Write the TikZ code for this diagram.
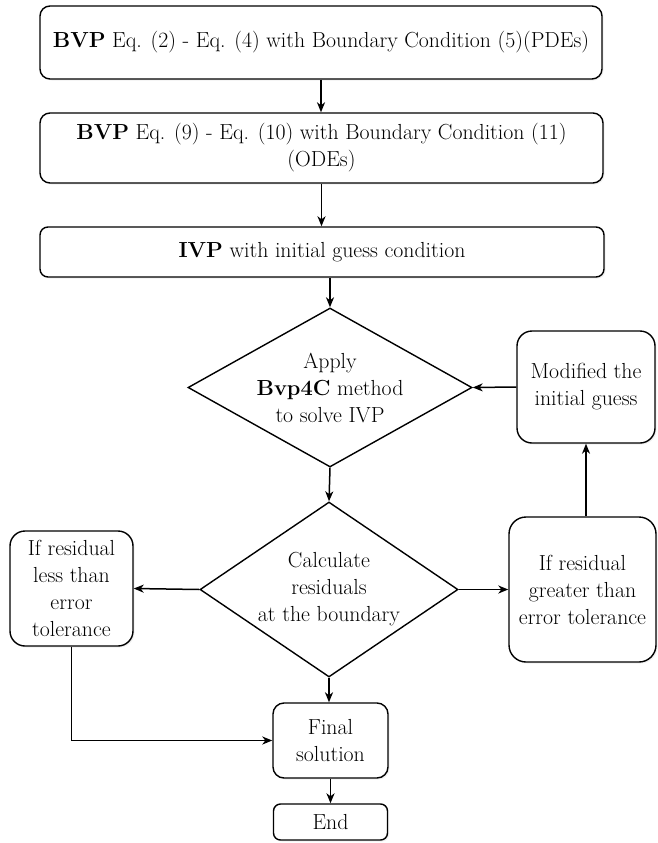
\documentclass[tikz,border=0pt]{standalone}
\usepackage{fontspec}
\usetikzlibrary{shapes.geometric,arrows.meta,shadows}
\begin{document}
\begin{tikzpicture}[x=1pt,y=-1pt,
  every node/.style={font=\rmfamily\fontsize{21.8}{27}\selectfont, align=center, inner sep=0pt},
  boxnode/.style={draw, line width=1.4pt, fill=white, rectangle, rounded corners=#1,
    drop shadow={opacity=0.12, shadow xshift=1.5pt, shadow yshift=-1.5pt}},
  boxnode/.default=10pt,
  dianode/.style={draw, line width=1.4pt, shape=diamond, inner sep=0pt},
  conn/.style={line width=1.5pt, -{Stealth[length=10pt,width=8pt,inset=3pt]}}
]
\useasboundingbox (0,0) rectangle (657,843);

\node[boxnode, minimum width=562pt, minimum height=73pt] (b1) at (321,42.5)
  {\textbf{BVP} Eq. (2) - Eq. (4) with Boundary Condition (5)(PDEs)};
\node[boxnode, minimum width=563pt, minimum height=70pt] (b2) at (321.5,148)
  {\textbf{BVP} Eq. (9) - Eq. (10) with Boundary Condition (11)\\(ODEs)};
\node[boxnode=8pt, minimum width=564pt, minimum height=50pt] (b3) at (322,252)
  {\textbf{IVP} with initial guess condition};

\node[dianode, minimum width=284pt, minimum height=159pt] (d1) at (330,387.5) {};
\node (t1) at (d1.center) {Apply\\\textbf{Bvp4C} method\\to solve IVP};

\node[boxnode=15pt, minimum width=138pt, minimum height=112pt] (mod) at (586,387)
  {Modified the\\initial guess};

\node[dianode, minimum width=258pt, minimum height=175pt] (d2) at (329,589.5) {};
\node (t2) at (d2.center) {Calculate\\residuals\\at the boundary};

\node[boxnode=15pt, minimum width=123pt, minimum height=115pt] (less) at (71.5,588.5)
  {If residual\\less than\\error\\tolerance};
\node[boxnode=17pt, minimum width=147pt, minimum height=145pt] (great) at (582.5,589.5)
  {If residual\\greater than\\error tolerance};

\node[boxnode=11pt, minimum width=115pt, minimum height=75pt] (final) at (330.5,740.5)
  {Final\\solution};
\node[boxnode=7pt, minimum width=114pt, minimum height=36pt] (end) at (330.5,822)
  {End};

\draw[conn] (b1.south) -- (b1.south |- b2.north);
\draw[conn] (b2.south) -- (b2.south |- b3.north);
\draw[conn] (d1.north |- b3.south) -- (d1.north);
\draw[conn] (d1.south) -- (d2.north);
\draw[conn] (mod.west) -- (d1.east);
\draw[conn] (great.north -| mod.south) -- (mod.south);
\draw[conn] (d2.west) -- (less.east);
\draw[conn] (d2.east) -- (great.west);
\draw[conn] (less.south) |- (final.west);
\draw[conn] (d2.south) -- (d2.south |- final.north);
\draw[conn] (final.south) -- (final.south |- end.north);
\end{tikzpicture}
\end{document}
